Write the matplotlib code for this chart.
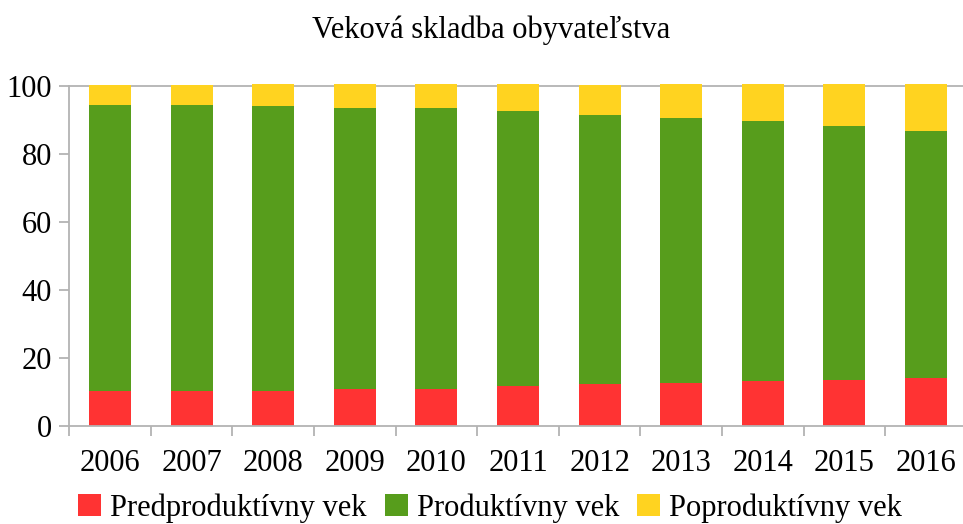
import matplotlib
matplotlib.use("Agg")
import matplotlib.pyplot as plt
import numpy as np
from matplotlib.patches import Patch

plt.rcParams['font.family'] = ['Liberation Serif', 'DejaVu Serif']

years = ["2006", "2007", "2008", "2009", "2010", "2011", "2012", "2013", "2014", "2015", "2016"]
predproduktivny = [10.2, 10.2, 10.2, 10.8, 10.8, 11.8, 12.4, 12.6, 13.1, 13.5, 14.1]
produktivny = [84.2, 84.2, 83.9, 82.7, 82.7, 80.8, 79.1, 78.0, 76.6, 74.7, 72.7]
poproduktivny = [5.9, 5.9, 6.5, 7.1, 7.1, 8.0, 8.8, 10.0, 10.9, 12.4, 13.8]
series_names = ["Predproduktívny vek", "Produktívny vek", "Poproduktívny vek"]
colors = ["#FF3333", "#579D1C", "#FFD320"]
title = "Veková skladba obyvateľstva"

fig = plt.figure(figsize=(9.63, 5.24), dpi=100)
ax = fig.add_axes([69.2/963, 98.3/524, 897.6/963, 339.7/524])

x = np.arange(len(years))
w = 0.515
axis_col = "#B3B3B3"

ax.axhline(100, color=axis_col, lw=1.3, zorder=0, clip_on=False)
bottom = np.zeros(len(years))
for vals, c in zip([predproduktivny, produktivny, poproduktivny], colors):
    ax.bar(x, vals, w, bottom=bottom, color=c, clip_on=False, zorder=2, linewidth=0)
    bottom += np.array(vals)

ax.set_xlim(-0.5, len(years) - 0.5)
ax.set_ylim(0, 100)
ax.set_yticks(range(0, 101, 20))
ax.set_xticks(x)
ax.set_xticklabels(years)
ax.set_xticks(np.arange(-0.5, len(years), 1.0), minor=True)
ax.tick_params(axis='x', which='major', length=0, pad=17, labelsize=22)
ax.tick_params(axis='x', which='minor', length=7.5, width=1.3, color=axis_col, direction='out')
ax.tick_params(axis='y', length=7.5, width=1.3, color=axis_col, pad=5, labelsize=22)

for s in ['top', 'right']:
    ax.spines[s].set_visible(False)
for s in ['left', 'bottom']:
    ax.spines[s].set_color(axis_col)
    ax.spines[s].set_linewidth(1.3)

fig.text(491/963, 1 - 30/524, title, ha='center', va='center', fontsize=22)

handles = [Patch(facecolor=c, edgecolor='none') for c in colors]
fig.legend(handles, series_names, loc='center', bbox_to_anchor=(490/963, 16/524),
           ncol=3, frameon=False, fontsize=22, handlelength=0.75, handleheight=0.75,
           handletextpad=0.3, columnspacing=0.6, borderaxespad=0)

fig.savefig("out.png", dpi=100)
